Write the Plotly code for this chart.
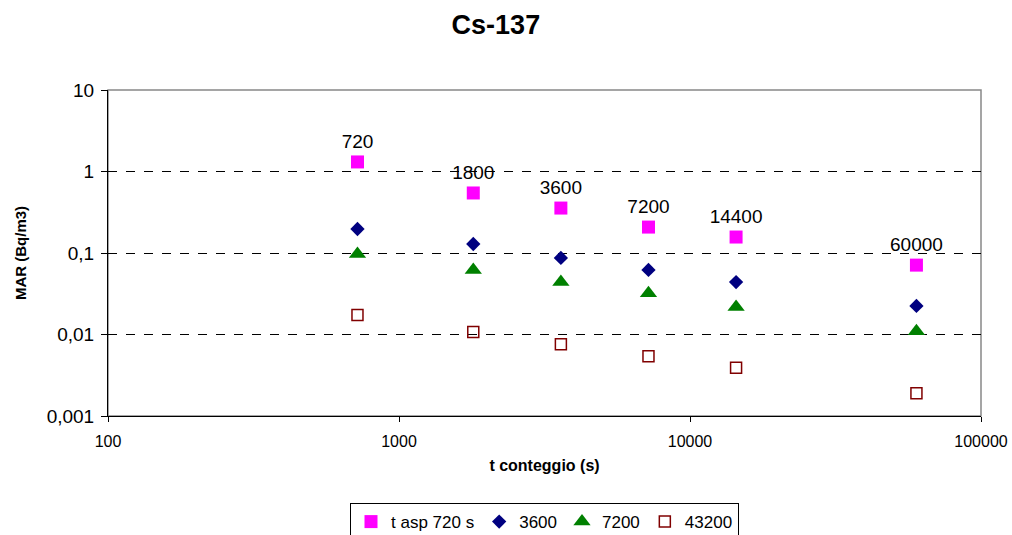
import plotly.graph_objects as go

t_count = [720, 1800, 3600, 7200, 14400, 60000]
labels_720 = ["720", "1800", "3600", "7200", "14400", "60000"]
mar_720 = [1.31, 0.545, 0.356, 0.208, 0.157, 0.071]
mar_3600 = [0.197, 0.129, 0.087, 0.062, 0.044, 0.0224]
mar_7200 = [0.097, 0.062, 0.044, 0.032, 0.0218, 0.0110]
mar_43200 = [0.0173, 0.0107, 0.0076, 0.0054, 0.0039, 0.0019]

series_names = ["t asp 720 s", "3600", "7200", "43200"]
ytick_vals = [0.001, 0.01, 0.1, 1, 10]
ytick_text = ["0,001", "0,01", "0,1", "1", "10"]
xtick_vals = [100, 1000, 10000, 100000]
xtick_text = ["100", "1000", "10000", "100000"]

FONT = "Liberation Sans, Arial, sans-serif"

fig = go.Figure()
fig.add_trace(go.Scatter(
    x=t_count, y=mar_720, name=series_names[0], mode="markers+text",
    text=labels_720, textposition="top center",
    textfont=dict(size=19, color="black", family=FONT),
    marker=dict(symbol="square", size=13, color="#FF00FF")))
fig.add_trace(go.Scatter(
    x=t_count, y=mar_3600, name=series_names[1], mode="markers",
    marker=dict(symbol="diamond", size=11, color="#000080")))
fig.add_trace(go.Scatter(
    x=t_count, y=mar_7200, name=series_names[2], mode="markers",
    marker=dict(symbol="triangle-up", size=15, color="#008000")))
fig.add_trace(go.Scatter(
    x=t_count, y=mar_43200, name=series_names[3], mode="markers",
    marker=dict(symbol="square-open", size=11, color="#800000",
                line=dict(width=1.5, color="#800000"))))

fig.update_layout(
    width=1012, height=535,
    paper_bgcolor="white", plot_bgcolor="white",
    margin=dict(l=108, r=31, t=90, b=119, autoexpand=False),
    font=dict(family=FONT, color="black"),
    title=dict(text="<b>Cs-137</b>", x=0.49, xanchor="center", y=0.955, yanchor="middle",
               font=dict(size=27, family=FONT, color="black")),
    showlegend=True,
    legend=dict(orientation="h", x=0.5, xanchor="center", y=-0.267, yanchor="top",
                bordercolor="black", borderwidth=1, font=dict(size=17, family=FONT),
                itemwidth=30, tracegroupgap=0),
    shapes=[dict(type="rect", xref="paper", yref="paper", x0=0, x1=1, y0=0, y1=1,
                 line=dict(color="#888888", width=1.5), layer="below")],
)
fig.update_xaxes(
    type="log", range=[2, 5], tickvals=xtick_vals, ticktext=xtick_text,
    showgrid=False, showline=True, linecolor="black", linewidth=1,
    ticks="outside", ticklen=5, tickcolor="black", automargin=False,
    ticklabelstandoff=6,
    tickfont=dict(size=16, family=FONT), zeroline=False,
    title=dict(text="<b>t conteggio (s)</b>", font=dict(size=16, family=FONT), standoff=10))
fig.update_yaxes(
    type="log", range=[-3, 1], tickvals=ytick_vals, ticktext=ytick_text,
    showgrid=True, gridcolor="black", gridwidth=1, griddash="dash",
    showline=True, linecolor="black", linewidth=1,
    ticks="outside", ticklen=6, tickcolor="black", automargin=False,
    ticklabelstandoff=3,
    tickfont=dict(size=19, family=FONT), zeroline=False,
    title=dict(text="<b>MAR (Bq/m3)</b>", font=dict(size=15, family=FONT), standoff=16))

fig.write_html("out.html", config={"displayModeBar": False},
               post_script="document.body.style.margin='0';document.body.style.overflow='hidden';")
